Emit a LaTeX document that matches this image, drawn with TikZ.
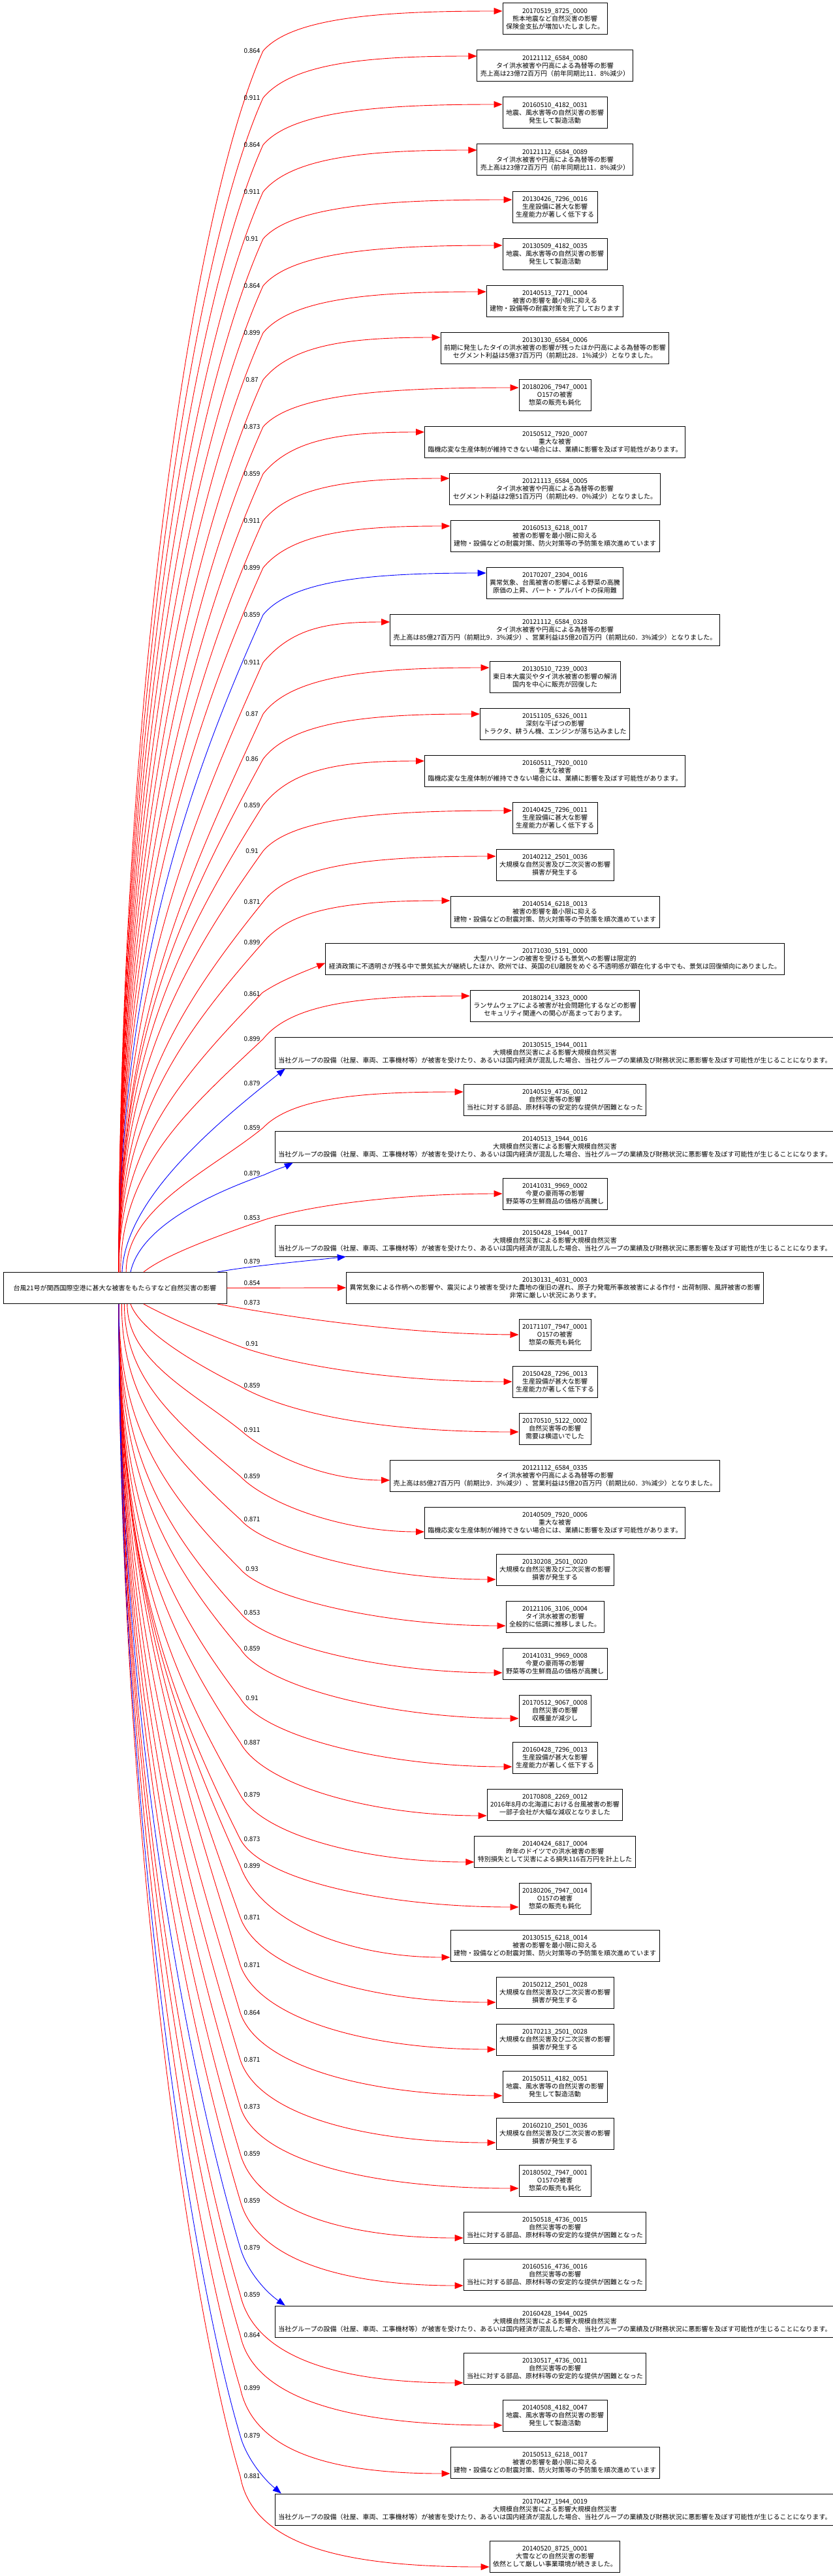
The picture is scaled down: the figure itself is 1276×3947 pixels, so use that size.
\documentclass[tikz,border=0pt]{standalone}
\usepackage{fontspec}
\setmainfont{Noto Sans CJK JP}
\usetikzlibrary{arrows.meta,calc}
\tikzset{
 box/.style={draw=black, line width=1pt, align=center, font=\fontsize{10}{12}\selectfont, inner xsep=5pt, inner ysep=2pt, minimum height=48pt, fill=white},
 lab/.style={font=\fontsize{10}{12}\selectfont, inner sep=0pt, text=black},
 conn/.style={line width=0.9pt, -{Triangle[length=13pt,width=10pt]}},
}
\newcommand\txTai{タイ洪水被害や円高による為替等の影響}
\newcommand\txJishin{地震、風水害等の自然災害の影響\\発生して製造活動}
\newcommand\txSeiNi{生産設備に甚大な影響\\生産能力が著しく低下する}
\newcommand\txSeiGa{生産設備が甚大な影響\\生産能力が著しく低下する}
\newcommand\txHigai{被害の影響を最小限に抑える\\建物・設備などの耐震対策、防火対策等の予防策を順次進めています}
\newcommand\txJudai{重大な被害\\臨機応変な生産体制が維持できない場合には、業績に影響を及ぼす可能性があります。}
\newcommand\txOne{O157の被害\\惣菜の販売も鈍化}
\newcommand\txDaiki{大規模な自然災害及び二次災害の影響\\損害が発生する}
\newcommand\txShizen{自然災害等の影響\\当社に対する部品、原材料等の安定的な提供が困難となった}
\newcommand\txGroup{大規模自然災害による影響大規模自然災害\\当社グループの設備（社屋、車両、工事機材等）が被害を受けたり、あるいは国内経済が混乱した場合、当社グループの業績及び財務状況に悪影響を及ぼす可能性が生じることになります。}
\newcommand\txKonka{今夏の豪雨等の影響\\野菜等の生鮮商品の価格が高騰し}
\newcommand\txUri{売上高は85億27百万円（前期比9．3\%減少）、営業利益は5億20百万円（前期比60．3\%減少）となりました。}
\newcommand\txUriB{売上高は23億72百万円（前年同期比11．8\%減少）}
\newcommand\rn[3]{\node[box] (n#1) at (850,{29+72*#1}) {#2\\#3};}
\newcommand\prepU[1]{%
 \pgfmathsetmacro\myDD{1949-#1}%
 \pgfmathsetmacro\mySX{6+25*max(0,1-\myDD/400)}%
 \pgfmathsetmacro\myS{max(0.45,1.25-0.0012*(\myDD-200))}%
 \pgfmathsetmacro\myA{min(0.3*\myDD,250)}%
 \pgfmathsetmacro\myCAX{403-\myS*\myA}%
 \pgfmathsetmacro\myCAY{#1+\myA}%
 \pgfmathsetmacro\myCBX{176+\mySX}%
 \pgfmathsetmacro\myCBY{1949-0.45*\myDD}%
}
\newcommand\prepD[1]{%
 \pgfmathsetmacro\myDD{#1-1997}%
 \pgfmathsetmacro\mySX{6+25*max(0,1-\myDD/400)}%
 \pgfmathsetmacro\myS{max(0.3,1.25-0.0012*(\myDD-200))}%
 \pgfmathsetmacro\myA{min(0.3*\myDD,250)}%
 \pgfmathsetmacro\myCAX{368-\myS*\myA}%
 \pgfmathsetmacro\myCAY{#1-\myA}%
 \pgfmathsetmacro\myCBX{176+\mySX}%
 \pgfmathsetmacro\myCBY{1997+0.45*\myDD}%
}
\newcommand\upE[5]{%
 \node[lab] (l#1) at (386,#3) {#2};
 \prepU{#3}%
 \pgfmathsetmacro\myCCY{#3-0.85*(#3-(#4))}%
 \coordinate (L#1) at (403,#3);
 \coordinate (Y#1) at (0,#4);
 \coordinate (T#1) at (n#1.west |- Y#1);
 \coordinate (M#1) at ($(L#1)!0.5!(T#1)$);
 \draw[conn,#5] ([xshift=\mySX pt]src.north) .. controls (\myCBX,\myCBY) and (\myCAX,\myCAY) .. (L#1) .. controls (448,\myCCY) and (M#1 |- T#1) .. (T#1);
}
\newcommand\dnE[5]{%
 \node[lab] (l#1) at (386,#3) {#2};
 \prepD{#3}%
 \pgfmathsetmacro\myPH{min(1,max(0,(#1-30)/24))}%
 \pgfmathsetmacro\myCDX{408-20*\myPH}%
 \pgfmathsetmacro\myCDY{#3+(0.44+0.36*\myPH)*((#4)-(#3))}%
 \pgfmathsetmacro\myFR{0.45+0.1*\myPH}%
 \coordinate (L#1) at (368,#3);
 \coordinate (Y#1) at (0,#4);
 \coordinate (T#1) at (n#1.west |- Y#1);
 \coordinate (M#1) at ($(T#1)!\myFR!(L#1)$);
 \draw[conn,#5] ([xshift=\mySX pt]src.south) .. controls (\myCBX,\myCBY) and (\myCAX,\myCAY) .. (L#1) .. controls (\myCDX,\myCDY) and (M#1 |- T#1) .. (T#1);
}
\begin{document}
\begin{tikzpicture}[x=1pt,y=-1pt]
\useasboundingbox (0,0) rectangle (1276,3947);
\node[box, minimum width=342pt] (src) at (176,1973.5) {台風21号が関西国際空港に甚大な被害をもたらすなど自然災害の影響};
\rn{0}{20170519\_8725\_0000}{熊本地震など自然災害の影響\\保険金支払が増加いたしました。}
\rn{1}{20121112\_6584\_0080}{\txTai\\\txUriB}
\rn{2}{20160510\_4182\_0031}{\txJishin}
\rn{3}{20121112\_6584\_0089}{\txTai\\\txUriB}
\rn{4}{20130426\_7296\_0016}{\txSeiNi}
\rn{5}{20130509\_4182\_0035}{\txJishin}
\rn{6}{20140513\_7271\_0004}{被害の影響を最小限に抑える\\建物・設備等の耐震対策を完了しております}
\rn{7}{20130130\_6584\_0006}{前期に発生したタイの洪水被害の影響が残ったほか円高による為替等の影響\\セグメント利益は5億37百万円（前期比28．1\%減少）となりました。}
\rn{8}{20180206\_7947\_0001}{\txOne}
\rn{9}{20150512\_7920\_0007}{\txJudai}
\rn{10}{20121113\_6584\_0005}{\txTai\\セグメント利益は2億51百万円（前期比49．0\%減少）となりました。}
\rn{11}{20160513\_6218\_0017}{\txHigai}
\rn{12}{20170207\_2304\_0016}{異常気象、台風被害の影響による野菜の高騰\\原価の上昇、パート・アルバイトの採用難}
\rn{13}{20121112\_6584\_0328}{\txTai\\\txUri}
\rn{14}{20130510\_7239\_0003}{東日本大震災やタイ洪水被害の影響の解消\\国内を中心に販売が回復した}
\rn{15}{20151105\_6326\_0011}{深刻な干ばつの影響\\トラクタ、耕うん機、エンジンが落ち込みました}
\rn{16}{20160511\_7920\_0010}{\txJudai}
\rn{17}{20140425\_7296\_0011}{\txSeiNi}
\rn{18}{20140212\_2501\_0036}{\txDaiki}
\rn{19}{20140514\_6218\_0013}{\txHigai}
\rn{20}{20171030\_5191\_0000}{大型ハリケーンの被害を受けるも景気への影響は限定的\\経済政策に不透明さが残る中で景気拡大が継続したほか、欧州では、英国のEU離脱をめぐる不透明感が顕在化する中でも、景気は回復傾向にありました。}
\rn{21}{20180214\_3323\_0000}{ランサムウェアによる被害が社会問題化するなどの影響\\セキュリティ関連への関心が高まっております。}
\rn{22}{20130515\_1944\_0011}{\txGroup}
\rn{23}{20140519\_4736\_0012}{\txShizen}
\rn{24}{20140513\_1944\_0016}{\txGroup}
\rn{25}{20141031\_9969\_0002}{\txKonka}
\rn{26}{20150428\_1944\_0017}{\txGroup}
\rn{27}{20130131\_4031\_0003}{異常気象による作柄への影響や、震災により被害を受けた農地の復旧の遅れ、原子力発電所事故被害による作付・出荷制限、風評被害の影響\\非常に厳しい状況にあります。}
\rn{28}{20171107\_7947\_0001}{\txOne}
\rn{29}{20150428\_7296\_0013}{\txSeiGa}
\rn{30}{20170510\_5122\_0002}{自然災害等の影響\\需要は横這いでした}
\rn{31}{20121112\_6584\_0335}{\txTai\\\txUri}
\rn{32}{20140509\_7920\_0006}{\txJudai}
\rn{33}{20130208\_2501\_0020}{\txDaiki}
\rn{34}{20121106\_3106\_0004}{タイ洪水被害の影響\\全般的に低調に推移しました。}
\rn{35}{20141031\_9969\_0008}{\txKonka}
\rn{36}{20170512\_9067\_0008}{自然災害の影響\\収穫量が減少し}
\rn{37}{20160428\_7296\_0013}{\txSeiGa}
\rn{38}{20170808\_2269\_0012}{2016年8月の北海道における台風被害の影響\\一部子会社が大幅な減収となりました}
\rn{39}{20140424\_6817\_0004}{昨年のドイツでの洪水被害の影響\\特別損失として災害による損失116百万円を計上した}
\rn{40}{20180206\_7947\_0014}{\txOne}
\rn{41}{20130515\_6218\_0014}{\txHigai}
\rn{42}{20150212\_2501\_0028}{\txDaiki}
\rn{43}{20170213\_2501\_0028}{\txDaiki}
\rn{44}{20150511\_4182\_0051}{\txJishin}
\rn{45}{20160210\_2501\_0036}{\txDaiki}
\rn{46}{20180502\_7947\_0001}{\txOne}
\rn{47}{20150518\_4736\_0015}{\txShizen}
\rn{48}{20160516\_4736\_0016}{\txShizen}
\rn{49}{20160428\_1944\_0025}{\txGroup}
\rn{50}{20130517\_4736\_0011}{\txShizen}
\rn{51}{20140508\_4182\_0047}{\txJishin}
\rn{52}{20150513\_6218\_0017}{\txHigai}
\rn{53}{20170427\_1944\_0019}{\txGroup}
\rn{54}{20140520\_8725\_0001}{大雪などの自然災害の影響\\依然として厳しい事業環境が続きました。}
% upper generic edges
\upE{0}{0.864}{78}{17}{red}
\upE{1}{0.911}{150}{86}{red}
\upE{2}{0.864}{222}{160}{red}
\upE{3}{0.911}{294}{230}{red}
\upE{4}{0.91}{366}{306}{red}
\upE{5}{0.864}{438}{376}{red}
\upE{6}{0.899}{510}{447}{red}
\upE{7}{0.87}{582}{517}{red}
\upE{8}{0.873}{654}{594}{red}
\upE{9}{0.859}{726}{662}{red}
\upE{10}{0.911}{798}{733}{red}
\upE{11}{0.899}{870}{806}{red}
\upE{12}{0.859}{942}{878}{blue}
\upE{13}{0.911}{1015}{953}{red}
\upE{14}{0.87}{1094}{1023}{red}
\upE{15}{0.86}{1163}{1094}{red}
\upE{16}{0.859}{1234}{1166}{red}
\upE{17}{0.91}{1304}{1242}{red}
\upE{18}{0.871}{1382}{1312}{red}
\upE{19}{0.899}{1444}{1380}{red}
\upE{21}{0.899}{1592}{1526}{red}
\upE{23}{0.859}{1728}{1673}{red}
% special upper edges
\node[lab] (l20) at (386,1523) {0.861};
\prepU{1521}
\coordinate (L20) at (402,1521);
\draw[conn,red] ([xshift=\mySX pt]src.north) .. controls (\myCBX,\myCBY) and (\myCAX,\myCAY) .. (L20) .. controls (430,1502) and (468,1488) .. ([yshift=18pt]n20.south west);
\node[lab] (l22) at (386,1660) {0.879};
\draw[conn,blue] ([xshift=11pt]src.north) .. controls (192,1840) and (320,1730) .. ([xshift=16pt]n22.south west);
\node[lab] (l24) at (386,1798) {0.879};
\coordinate (L24) at (405,1800);
\draw[conn,blue] ([xshift=24pt]src.north) .. controls (215,1880) and (320,1830) .. (L24) .. controls (420,1793) and (440,1786) .. ([xshift=28pt]n24.south west);
\node[lab] (l25) at (386,1866) {0.853};
\coordinate (L25) at (405,1869);
\draw[conn,red] ([xshift=44pt]src.north) .. controls (250,1925) and (320,1898) .. (L25) .. controls (480,1845) and (620,1829) .. (n25.west);
\node[lab] (l26) at (386,1933) {0.879};
\draw[conn,blue] ([xshift=157pt]src.north) .. controls (380,1940) and (470,1932) .. ([xshift=109pt]n26.south west);
\node[lab] (l27) at (386,1966) {0.854};
\draw[conn,red] (src.east) -- (n27.west);
\node[lab] (l28) at (386,1996) {0.873};
\draw[conn,red] ([xshift=157pt]src.south) .. controls (480,2025) and (640,2044) .. (n28.west);
\node[lab] (l29) at (386,2059) {0.91};
\coordinate (L29) at (370,2064);
\draw[conn,red] ([xshift=44pt]src.south) .. controls (260,2020) and (320,2045) .. (L29) .. controls (450,2092) and (600,2117) .. (n29.west);
\node[lab] (l30) at (386,2123) {0.859};
\coordinate (L30) at (366,2123);
\draw[conn,red] ([xshift=24pt]src.south) .. controls (215,2040) and (300,2090) .. (L30) .. controls (430,2160) and (560,2194) .. ([yshift=-5pt]n30.west);
% lower generic edges
\dnE{31}{0.911}{2191}{2268}{red}
\dnE{32}{0.859}{2262}{2347}{red}
\dnE{33}{0.871}{2328}{2420}{red}
\dnE{34}{0.93}{2404}{2491}{red}
\dnE{35}{0.853}{2471}{2563}{red}
\dnE{36}{0.859}{2526}{2633}{red}
\dnE{37}{0.91}{2602}{2707}{red}
\dnE{38}{0.887}{2670}{2782}{red}
\dnE{39}{0.879}{2750}{2853}{red}
\dnE{40}{0.873}{2818}{2922}{red}
\dnE{41}{0.899}{2859}{2999}{red}
\dnE{42}{0.871}{2938}{3068}{red}
\dnE{43}{0.871}{3011}{3140}{red}
\dnE{44}{0.864}{3084}{3211}{red}
\dnE{45}{0.871}{3156}{3283}{red}
\dnE{46}{0.873}{3228}{3353}{red}
\dnE{47}{0.859}{3300}{3429}{red}
\dnE{48}{0.859}{3372}{3502}{red}
\dnE{50}{0.859}{3516}{3651}{red}
\dnE{51}{0.864}{3578}{3716}{red}
\dnE{52}{0.899}{3659}{3790}{red}
\dnE{54}{0.881}{3794}{3933}{red}
% special lower edges
\node[lab] (l49) at (386,3444) {0.879};
\prepD{3444}
\coordinate (L49) at (368,3444);
\draw[conn,blue] ([xshift=\mySX pt]src.south) .. controls (\myCBX,\myCBY) and (\myCAX,\myCAY) .. (L49) .. controls (378,3478) and (405,3510) .. ([xshift=16pt]n49.north west);
\node[lab] (l53) at (386,3732) {0.879};
\prepD{3732}
\coordinate (L53) at (368,3732);
\draw[conn,blue] ([xshift=\mySX pt]src.south) .. controls (\myCBX,\myCBY) and (\myCAX,\myCAY) .. (L53) .. controls (376,3762) and (400,3795) .. ([xshift=10pt]n53.north west);
\end{tikzpicture}
\end{document}
